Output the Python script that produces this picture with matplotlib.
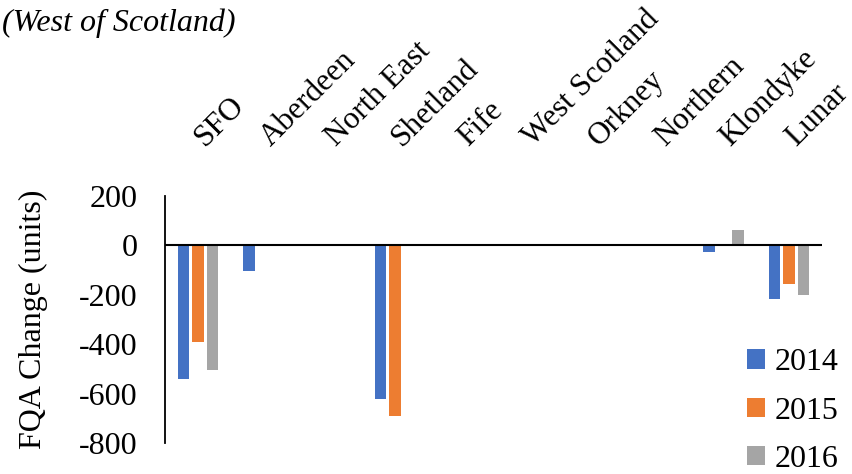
import numpy as np
import matplotlib.pyplot as plt
from matplotlib.transforms import ScaledTranslation

plt.rcParams['font.family'] = ['Liberation Serif', 'DejaVu Serif']
plt.rcParams['axes.unicode_minus'] = False

areas = ['SFO', 'Aberdeen', 'North East', 'Shetland', 'Fife', 'West Scotland',
         'Orkney', 'Northern', 'Klondyke', 'Lunar']
y2014 = [-540, -105, 0, -620, 5, 0, 0, 0, -25, -215]
y2015 = [-390, 0, 0, -690, 0, 0, 0, 0, 0, -155]
y2016 = [-505, 0, 0, 0, 0, 0, 0, 0, 62, -200]

fig = plt.figure(figsize=(8.52, 4.74), dpi=100)
ax = fig.add_axes([0.1937, 0.0654, 0.7711, 0.5211])

x = np.arange(len(areas))
w = 0.175
step = 0.22
ax.bar(x - step, y2014, w, color='#4472C4', label='2014')
ax.bar(x, y2015, w, color='#ED7D31', label='2015')
ax.bar(x + step, y2016, w, color='#A5A5A5', label='2016')

ax.axhline(0, color='black', lw=1.5, zorder=3)
ax.set_xlim(-0.5, len(areas) - 0.5)
ax.set_ylim(-800, 200)
ax.set_yticks([200, 0, -200, -400, -600, -800])
ax.tick_params(axis='y', length=0, labelsize=23, pad=20)

for s in ['top', 'right', 'bottom']:
    ax.spines[s].set_visible(False)
ax.spines['left'].set_linewidth(1.3)

ax.xaxis.tick_top()
ax.set_xticks(x)
ax.set_xticklabels(areas, rotation=45, ha='left', va='baseline',
                   rotation_mode='anchor', fontsize=22.5)
ax.tick_params(axis='x', length=0, pad=35)
shift = ScaledTranslation(7 / 100, 0, fig.dpi_scale_trans)
for lbl in ax.get_xticklabels():
    lbl.set_transform(lbl.get_transform() + shift)

ax.set_ylabel('FQA Change (units)', fontsize=23, labelpad=22)

fig.text(0.002, 0.952, '(West of Scotland)', fontsize=23, style='italic',
         va='center', ha='left')

fig.legend(loc='lower left', bbox_to_anchor=(0.843, -0.06), frameon=False,
           fontsize=23, handlelength=0.55, handleheight=0.55, handletextpad=0.3,
           labelspacing=0.6)

fig.savefig('out.png', dpi=100)
